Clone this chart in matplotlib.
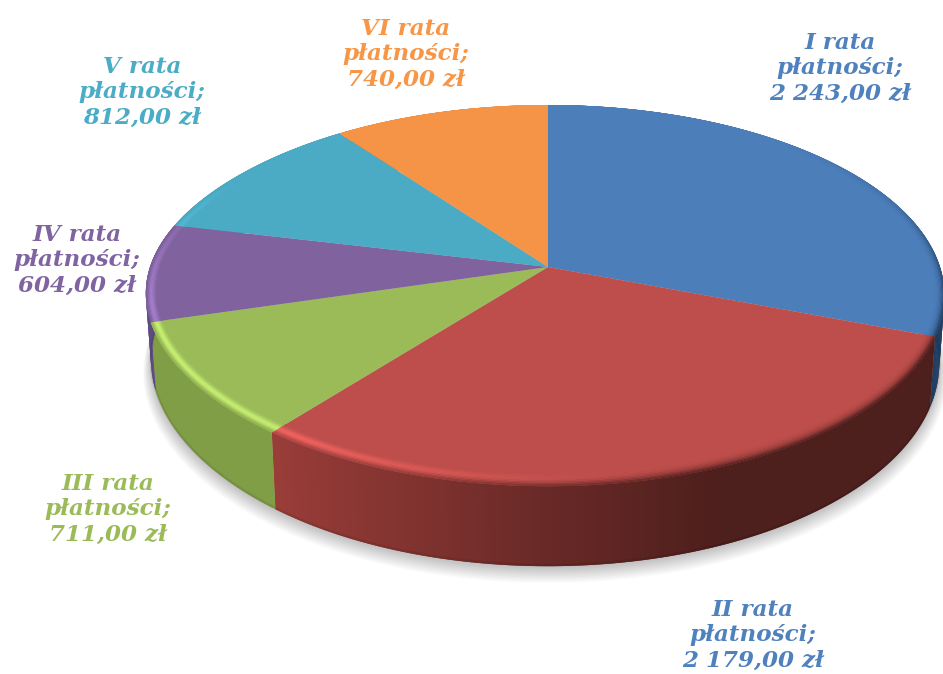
import numpy as np
import matplotlib
matplotlib.use('Agg')
import matplotlib.pyplot as plt
from matplotlib.collections import PolyCollection
from matplotlib.patches import Polygon

names = ['I rata', 'II rata', 'III rata', 'IV rata', 'V rata', 'VI rata']
values = [2243.00, 2179.00, 711.00, 604.00, 812.00, 740.00]
top_colors = ['#4C7EBA', '#BE4E4B', '#9BBB59', '#80629E', '#4BAAC4', '#F59446']
wall_colors = ['#407CC4', '#9A3D39', '#809E46', '#5F4B82', '#3A8CA0', '#C87838']
text_colors = ['#4F81BD', '#4F81BD', '#9BBB59', '#8064A2', '#4BACC6', '#F79646']
label_xy = [(840, 68), (753, 635), (108, 509), (77, 260), (142, 92), (406, 54)]

# geometry of the tilted disc, in pixels
CX, CY = 548, 267
R, A, K = 392, 186.3, 0.15


def rim(t, rx=1.0, ry=1.0):
    w = 1 + K * np.cos(t)
    r = R + 6 * np.clip(-np.sin(t), 0, 1) ** 6
    return CX + r * rx * np.sin(t) / w, CY - A * ry * np.cos(t) / w


def rim_bottom(t):
    x, y = rim(t)
    return CX + (x - CX) * 0.987, y + 65 - 15 * np.cos(t)


def money(v):
    s = f'{v:,.2f}'.replace(',', ' ').replace('.', ',')
    return s + ' zł'


def rgb(c):
    return np.array(matplotlib.colors.to_rgb(c))


def shade(deg):
    return np.interp(deg, [90, 158, 180, 199, 218, 280], [.5, .5, .68, .85, 1, 1])


def light(deg):
    return np.interp(deg, [0, 165, 190, 215, 260, 285, 300, 360], [0, 0, .5, 1, 1, .3, .05, 0])


def dark(deg):
    return np.interp(deg, [0, 40, 70, 100, 165, 190, 215, 260, 320, 360], [0, 0, .25, .95, .95, .75, .4, .15, 0, 0])


fig = plt.figure(figsize=(9.43, 6.74), dpi=100)
ax = fig.add_axes([0, 0, 1, 1])
ax.set_xlim(0, 943)
ax.set_ylim(674, 0)
ax.axis('off')

# soft shadow under the disc
tt = np.linspace(0, 2 * np.pi, 361)
bx, by = rim_bottom(tt)
for i in range(12):
    g = 1 + i * 0.0018
    ax.add_patch(Polygon(np.c_[CX + (bx - CX) * g, CY + (by - CY) * g + 2 + i * 0.8],
                         fc='black', ec='none', alpha=0.018, zorder=1))

ends = np.cumsum(values) / np.sum(values) * 360
starts = np.r_[0, ends[:-1]]

for s, e, top, wall, in zip(starts, ends, top_colors, wall_colors):
    deg = np.r_[np.arange(s, e, 0.5), e]
    t = np.radians(deg)

    # side wall, each strip overlaps the next so no seams show
    polys, cols = [], []
    for d0, d1 in zip(deg[:-1], deg[1:]):
        a0 = np.radians(d0)
        a1 = np.radians(min(d1 + 0.5, e))
        x0, y0 = rim(a0)
        x1, y1 = rim(a1)
        x2, y2 = rim_bottom(a1)
        x3, y3 = rim_bottom(a0)
        polys.append([(x0, y0), (x1, y1), (x2, y2), (x3, y3)])
        cols.append(rgb(wall) * shade((d0 + d1) / 2))
    ax.add_collection(PolyCollection(polys, facecolors=cols, edgecolors='none', zorder=2))

    # darker lower edge of the wall
    low = (deg > 85) & (deg < 275)
    if low.any():
        lx, ly = rim_bottom(t[low])
        ax.plot(lx, ly - 1, color='black', alpha=0.08, lw=2, solid_capstyle='butt', zorder=2.5)

    # top face
    x, y = rim(t)
    face = ax.fill(np.r_[CX, x], np.r_[CY, y], color=top, lw=0, zorder=3)[0]

    # bevel along the rim, kept inside the slice
    us = np.linspace(0, 1, 11)
    polys, cols = [], []
    for u0, u1 in zip(us[:-1], us[1:]):
        for d0, d1 in zip(deg[:-1], deg[1:]):
            a0 = np.radians(d0 - 1)
            a1 = np.radians(d1 + 0.5)
            q = []
            for a, u in ((a0, u0), (a1, u0), (a1, 1.02 * u1), (a0, 1.02 * u1)):
                q.append(rim(a, 1 - 0.03 * (1 - u), 1 - 0.065 * (1 - u)))
            mid = (d0 + d1) / 2
            um = (u0 + u1) / 2
            c = rgb(top) * (1 + 0.3 * light(mid) * np.sin(np.pi * um ** 1.3) ** 2)
            c = np.clip(c, 0, 1)
            mix = dark(mid) * um ** 3
            c = c * (1 - mix) + rgb(wall) * shade(mid) * mix
            polys.append(q)
            cols.append(c)
    bevel = PolyCollection(polys, facecolors=cols, edgecolors='none', zorder=4)
    ax.add_collection(bevel)
    bevel.set_clip_path(face)

for name, v, c, (lx, ly) in zip(names, values, text_colors, label_xy):
    ax.text(lx, ly, f'{name}\npłatności;\n{money(v)}', color=c, ha='center', va='center',
            family='DejaVu Serif', weight='bold', style='italic', fontsize=16.6, linespacing=1.2, zorder=5)

fig.savefig('out.png', dpi=100)
